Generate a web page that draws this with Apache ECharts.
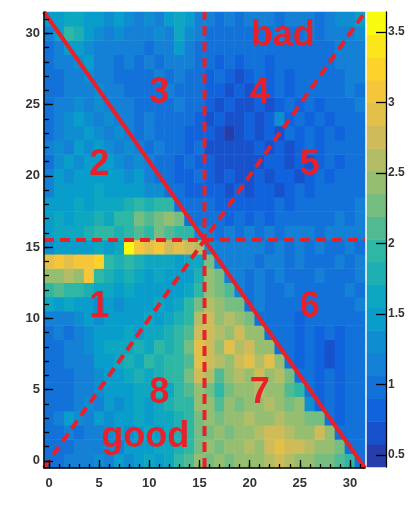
<!DOCTYPE html>
<html>
<head>
<meta charset="utf-8">
<script src="https://cdn.jsdelivr.net/npm/echarts@6/dist/echarts.min.js"></script>
<style>
  html, body { margin: 0; padding: 0; background: #fff; }
  #chart { width: 410px; height: 505px; }
</style>
</head>
<body>
<div id="chart"></div>
<script>
// 32 x 32 bins, index 0..31 on both axes
const bins = [0,1,2,3,4,5,6,7,8,9,10,11,12,13,14,15,16,17,18,19,20,21,22,23,24,25,26,27,28,29,30,31];

// bin contents, one row per y bin (x = 0..31)
const y31 = [1.5,1.5,1.6,1.7,1.5,1.4,1.3,1.4,1.3,1.2,1.3,1.2,1.4,1.6,1.4,1.2, 1.1,1.0,1.1,1.0,1.1,1.2,1.1,1.0,1.1,1.2,1.1,1.0,1.2,1.3,1.3,1.4];
const y30 = [1.2,1.4,1.9,1.8,1.5,1.3,1.2,1.3,1.2,1.1,1.2,1.3,1.2,1.6,1.3,1.1, 0.9,1.0,0.9,1.0,1.0,0.9,1.0,1.1,1.0,1.0,1.1,1.0,1.1,1.2,1.2,1.3];
const y29 = [1.0,1.2,1.4,1.5,1.3,1.2,1.1,1.2,1.1,1.2,1.0,1.1,1.2,1.4,1.2,1.0, 0.9,0.9,1.0,0.9,0.9,1.0,0.9,1.0,0.9,1.0,0.9,1.0,1.0,1.1,1.2,1.2];
const y28 = [0.9,1.1,1.2,1.3,1.4,1.2,1.1,1.0,1.1,1.0,1.1,1.0,1.1,1.2,1.1,0.9, 0.9,0.8,0.9,0.8,0.9,0.9,0.8,0.9,1.0,0.9,1.0,0.9,1.0,1.1,1.1,1.2];
const y27 = [0.9,1.0,1.1,1.2,1.3,1.2,1.1,1.0,1.0,0.9,1.0,1.1,1.0,1.1,1.0,0.9, 0.8,0.9,0.8,0.7,0.8,0.9,0.8,0.9,0.8,0.9,1.0,0.9,1.0,1.0,1.1,1.1];
const y26 = [0.9,1.0,1.1,1.2,1.2,1.3,1.2,1.1,1.0,1.0,0.9,1.0,1.1,1.0,0.9,0.9, 0.8,0.8,0.7,0.8,0.7,0.8,0.8,0.9,0.8,0.9,0.9,1.0,0.9,1.0,1.1,1.0];
const y25 = [1.0,1.1,1.2,1.3,1.2,1.3,1.2,1.1,1.1,1.0,1.0,0.9,1.0,1.1,0.9,0.9, 0.8,0.7,0.8,0.7,0.7,0.8,0.7,0.8,0.9,0.8,0.9,0.8,0.9,1.0,1.0,1.1];
const y24 = [0.9,1.2,1.3,1.4,1.3,1.2,1.3,1.2,1.1,1.0,1.1,1.0,0.9,1.0,0.9,0.8, 0.7,0.8,0.7,0.7,0.8,0.7,0.8,1.3,0.8,0.9,0.8,0.9,0.8,0.9,1.0,1.0];
const y23 = [1.0,1.2,1.3,1.3,1.4,1.3,1.2,1.3,1.2,1.0,1.1,0.9,1.0,0.9,0.8,0.8, 0.8,0.7,0.42,0.7,0.8,0.7,0.8,0.7,0.9,0.8,0.9,0.8,0.9,0.8,0.9,1.0];
const y22 = [1.1,1.3,1.2,1.4,1.3,1.4,1.3,1.2,1.3,1.1,1.0,1.1,0.9,0.9,0.8,0.9, 0.7,0.65,0.7,0.65,0.7,0.8,0.7,0.8,0.7,0.8,0.9,0.8,0.9,0.9,1.0,1.0];
const y21 = [1.0,1.3,1.4,1.3,1.4,1.5,1.4,1.3,1.2,1.3,1.1,1.0,0.9,0.8,0.9,0.8, 0.8,0.7,0.65,0.7,0.65,0.7,0.8,0.8,0.7,0.8,0.7,0.8,0.9,0.8,0.9,1.0];
const y20 = [1.1,1.4,1.3,1.5,1.4,1.5,1.4,1.5,1.3,1.4,1.2,1.0,0.9,0.8,0.8,0.9, 0.8,0.7,0.8,0.65,0.7,0.8,0.7,0.8,0.8,0.7,0.8,0.9,0.8,0.9,1.0,0.9];
const y19 = [1.2,1.4,1.5,1.4,1.5,1.6,1.5,1.4,1.5,1.4,1.3,1.3,1.0,0.9,0.8,0.8, 0.8,0.8,0.7,0.8,0.7,0.8,0.8,0.7,0.8,0.9,0.8,0.9,0.9,1.0,0.9,1.0];
const y18 = [1.4,1.5,1.4,1.6,1.5,1.6,1.7,1.6,1.8,1.9,1.8,2.0,1.9,1.0,0.9,0.9, 0.9,0.8,0.8,0.8,0.8,0.8,0.8,0.9,0.8,0.9,0.9,1.0,0.9,1.0,1.0,1.1];
const y17 = [1.5,1.6,1.5,1.7,1.6,1.8,1.7,1.9,2.0,2.2,2.1,2.3,2.4,2.2,1.0,0.9, 1.0,0.9,0.8,0.9,0.8,0.9,0.8,0.9,1.0,0.9,1.0,0.9,1.0,1.1,1.0,1.1];
const y16 = [1.5,1.6,1.7,1.6,1.8,2.0,1.9,1.8,2.0,2.1,2.0,2.2,2.1,2.0,1.9,1.1, 1.1,1.0,1.1,1.0,1.1,1.0,1.1,1.0,1.1,1.2,1.1,1.0,1.1,1.2,1.1,1.2];
const y15 = [1.3,1.4,1.4,1.5,1.4,1.6,1.5,1.7,3.64,3.0,2.9,3.0,2.8,2.9,2.7,2.6, 1.3,1.2,1.1,1.2,1.1,1.2,1.0,1.1,1.0,1.1,1.0,1.1,1.0,1.0,1.1,1.0];
const y14 = [2.9,3.0,2.9,3.0,3.1,3.3,1.9,1.8,1.9,1.8,1.6,1.7,1.6,1.5,1.6,1.7, 2.2,1.2,1.1,1.2,1.1,1.0,1.1,1.2,1.0,1.1,1.0,0.9,1.0,1.1,1.0,1.1];
const y13 = [2.4,2.5,2.6,2.5,3.0,1.9,1.8,1.7,1.8,1.7,1.5,1.6,1.5,1.4,1.5,1.8, 2.4,2.2,1.1,1.2,1.0,1.1,1.0,1.1,1.0,0.9,1.0,1.1,1.0,0.9,1.0,1.1];
const y12 = [2.0,2.1,1.9,2.0,1.8,1.7,1.6,1.5,1.6,1.5,1.4,1.5,1.4,1.5,1.6,1.9, 2.5,2.3,2.1,1.1,1.0,1.1,0.9,1.0,1.1,1.0,0.9,1.0,1.0,0.9,1.1,1.0];
const y11 = [1.6,1.5,1.6,1.5,1.4,1.3,1.4,1.3,1.4,1.5,1.4,1.6,1.5,1.7,1.9,2.3, 2.6,2.4,2.3,2.2,1.0,1.1,1.0,0.9,1.0,0.9,1.0,0.9,0.9,1.0,1.0,1.1];
const y10 = [1.2,1.1,1.2,1.3,1.4,1.3,1.4,1.5,1.4,1.5,1.6,1.5,1.7,1.8,2.0,2.6, 2.7,2.5,2.6,2.4,2.3,1.0,0.9,1.0,0.9,0.8,0.9,0.9,1.0,0.9,1.0,1.0];
const y9  = [1.0,1.1,1.0,1.2,1.3,1.4,1.5,1.4,1.6,1.5,1.7,1.6,1.8,1.9,2.1,2.8, 2.8,2.6,2.5,2.7,2.5,2.4,0.9,1.0,0.9,0.8,0.9,0.8,0.9,0.8,0.9,1.0];
const y8  = [1.0,1.0,1.1,1.2,1.3,1.5,1.6,1.7,1.6,1.8,1.7,1.9,1.8,2.0,2.2,2.9, 2.8,2.5,2.9,2.6,2.8,2.5,2.4,1.0,0.9,0.8,0.9,0.8,0.7,0.8,0.9,1.0];
const y7  = [0.9,1.0,1.1,1.1,1.2,1.4,1.5,1.6,1.8,1.7,1.9,1.8,2.0,1.9,2.1,2.9, 2.7,2.6,2.5,2.7,2.9,2.6,2.9,2.5,0.9,0.8,0.9,0.8,0.7,0.8,0.9,1.0];
const y6  = [0.9,1.0,1.0,1.1,1.2,1.3,1.4,1.5,1.6,1.8,1.7,1.8,1.9,2.0,2.2,2.7, 2.6,2.1,2.4,2.6,2.5,2.7,2.5,2.6,2.2,1.0,0.9,0.8,0.9,0.8,0.9,0.9];
const y5  = [1.0,0.9,1.0,1.1,1.2,1.3,1.4,1.5,1.5,1.6,1.7,1.8,1.7,1.9,2.1,2.5, 2.2,2.0,2.3,2.5,2.4,2.6,2.5,2.4,2.1,2.0,0.9,0.8,0.9,0.8,0.9,1.0];
const y4  = [1.0,1.0,0.9,1.1,1.3,1.2,1.4,1.3,1.5,1.6,1.5,1.7,1.8,1.9,2.0,2.4, 2.5,2.1,2.4,2.3,2.5,2.4,2.6,2.5,2.3,2.4,1.3,0.8,0.9,0.8,0.9,0.9];
const y3  = [1.0,1.1,1.4,1.3,1.2,1.4,1.3,1.5,1.4,1.6,1.5,1.7,1.6,1.8,1.9,2.3, 2.4,2.3,2.5,2.4,2.6,2.5,2.4,2.6,2.5,2.4,2.3,2.2,0.9,0.8,0.9,1.0];
const y2  = [1.0,0.9,1.1,1.0,1.2,1.1,1.3,1.4,1.3,1.5,1.6,1.5,1.7,1.8,1.9,2.2, 2.3,2.4,2.3,2.5,2.4,2.6,2.7,2.8,2.6,2.5,2.4,2.7,2.5,0.9,1.0,0.9];
const y1  = [0.9,1.0,1.0,1.1,1.2,1.1,1.3,1.2,1.4,1.5,1.4,1.6,1.7,1.8,2.0,2.3, 2.4,2.3,2.5,2.4,2.6,2.5,2.8,2.9,2.8,2.7,2.6,2.5,2.4,2.3,1.0,0.9];
const y0  = [1.0,1.0,1.1,1.2,1.1,1.3,1.2,1.4,1.3,1.5,1.6,1.5,1.7,1.9,2.1,2.4, 2.3,2.4,2.3,2.5,2.4,2.5,2.6,2.7,2.6,2.5,2.4,2.3,2.2,2.1,2.0,1.0];

const rows = [y0,y1,y2,y3,y4,y5,y6,y7,y8,y9,y10,y11,y12,y13,y14,y15,
              y16,y17,y18,y19,y20,y21,y22,y23,y24,y25,y26,y27,y28,y29,y30,y31];

// z range and number of colour levels
const zMin = 0.415;
const zMax = 3.64;
const nLevels = 20;

// axis tick labels
const axisTicks = [0, 5, 10, 15, 20, 25, 30];
const minorTicks = bins;
const zTicks = [0.5, 1, 1.5, 2, 2.5, 3, 3.5];

// region cut lines, in bin units
const solidCut = [[-0.5, 31.5], [31.5, -0.5]];
const dashedCuts = [
  [[-0.5, 15.5], [31.5, 15.5]],
  [[15.5, -0.5], [15.5, 31.5]],
  [[-0.5, -0.5], [31.5, 31.5]]
];

// region labels
const regionText = ['1', '2', '3', '4', '5', '6', '7', '8', 'bad', 'good'];
const regionX = [5, 5, 11, 21, 26, 26, 21, 11, 23.3, 9.6];
const regionY = [11, 21, 26, 26, 21, 11, 5, 5, 30, 1.9];

// "bird" palette stops
const birdStops = [0.0, 0.125, 0.25, 0.375, 0.5, 0.625, 0.75, 0.875, 1.0];
const birdR = [0.2082, 0.0592, 0.0780, 0.0232, 0.1802, 0.5301, 0.8186, 0.9956, 0.9764];
const birdG = [0.1664, 0.3599, 0.5041, 0.6419, 0.7178, 0.7492, 0.7328, 0.7862, 0.9832];
const birdB = [0.5293, 0.8684, 0.8385, 0.7914, 0.6425, 0.4662, 0.3499, 0.1968, 0.0539];

function bird(t) {
  t = Math.max(0, Math.min(1, t));
  let k = 0;
  while (k < birdStops.length - 2 && t > birdStops[k + 1]) k++;
  const f = (t - birdStops[k]) / (birdStops[k + 1] - birdStops[k]);
  const c = arr => Math.round(255 * (arr[k] + f * (arr[k + 1] - arr[k])));
  return 'rgb(' + c(birdR) + ',' + c(birdG) + ',' + c(birdB) + ')';
}

const step = (zMax - zMin) / nLevels;
const pieces = [];
const levelIdx = [];
const barData = [];
for (let k = 0; k < nLevels; k++) {
  const p = { gte: zMin + k * step, color: bird((k + 0.99) / nLevels) };
  if (k === nLevels - 1) p.lte = zMax + 1e-9; else p.lt = zMin + (k + 1) * step;
  pieces.push(p);
  levelIdx.push(k);
  barData.push([0, k, zMin + (k + 0.5) * step]);
}

const cells = [];
rows.forEach((row, j) => row.forEach((v, i) => cells.push([i, j, v])));

const red = '#e8202a';
const labelFont = { fontFamily: 'Liberation Sans', fontWeight: 'bold', color: '#333' };

function valueAxis(pos, ticks, len, withLabels, showLine, margin) {
  return {
    gridIndex: 1, type: 'value', position: pos, min: -0.5, max: 31.5, z: 10,
    axisLine: { show: showLine, onZero: false, lineStyle: { color: '#000', width: 1.5 } },
    splitLine: { show: false },
    axisTick: { show: true, inside: true, length: len, customValues: ticks,
                lineStyle: { color: '#000', width: 1.3 } },
    axisLabel: withLabels
      ? Object.assign({ show: true, customValues: ticks, margin: margin, fontSize: 13 }, labelFont)
      : { show: false }
  };
}

const chart = echarts.init(document.getElementById('chart'), null, { renderer: 'canvas' });

chart.setOption({
  animation: false,
  backgroundColor: '#fff',
  grid: [
    { left: 44, top: 12, width: 321, height: 456 },
    { left: 44, top: 12, width: 321, height: 456 },
    { left: 367, top: 12, width: 19, height: 455 }
  ],
  xAxis: [
    { gridIndex: 0, type: 'category', data: bins, show: false },
    valueAxis('bottom', axisTicks, 8, true, true, 9),
    valueAxis('bottom', minorTicks, 4, false, false, 0),
    { gridIndex: 2, type: 'category', data: ['z'], show: false }
  ],
  yAxis: [
    { gridIndex: 0, type: 'category', data: bins, show: false },
    valueAxis('left', axisTicks, 9, true, true, 4),
    valueAxis('left', minorTicks, 5, false, false, 0),
    { gridIndex: 2, type: 'category', data: levelIdx, show: false },
    {
      gridIndex: 2, type: 'value', position: 'right', min: zMin, max: zMax, z: 10,
      axisLine: { show: true, lineStyle: { color: '#000', width: 1.3 } },
      splitLine: { show: false },
      axisTick: { show: true, inside: true, length: 10, customValues: zTicks,
                  lineStyle: { color: '#000', width: 1.3 } },
      axisLabel: Object.assign({ show: true, customValues: zTicks, margin: 2, fontSize: 12 }, labelFont)
    }
  ],
  visualMap: {
    type: 'piecewise', show: false, dimension: 2, seriesIndex: [0, 1], pieces: pieces
  },
  series: [
    {
      type: 'heatmap', xAxisIndex: 0, yAxisIndex: 0, data: cells,
      emphasis: { disabled: true }, silent: true
    },
    {
      type: 'heatmap', xAxisIndex: 3, yAxisIndex: 3, data: barData,
      emphasis: { disabled: true }, silent: true
    },
    {
      type: 'line', xAxisIndex: 1, yAxisIndex: 1, data: solidCut, symbol: 'none', silent: true, z: 5,
      lineStyle: { color: red, width: 4 }
    }
  ].concat(dashedCuts.map(seg => ({
      type: 'line', xAxisIndex: 1, yAxisIndex: 1, data: seg, symbol: 'none', silent: true, z: 5,
      lineStyle: { color: red, width: 4, type: [10, 6] }
  }))).concat([{
      type: 'custom', xAxisIndex: 1, yAxisIndex: 1, silent: true, z: 6,
      data: regionX.map((x, k) => [x, regionY[k]]),
      renderItem: function (params, api) {
        const p = api.coord([api.value(0), api.value(1)]);
        // nudge so the glyph body, not the em box, sits on the point
        return {
          type: 'text', x: p[0], y: p[1] + 3,
          style: {
            text: regionText[params.dataIndex], fill: red,
            fontSize: 36, fontWeight: 'bold', fontFamily: 'Liberation Sans',
            align: 'center', verticalAlign: 'middle'
          }
        };
      }
  }])
});
</script>
</body>
</html>
